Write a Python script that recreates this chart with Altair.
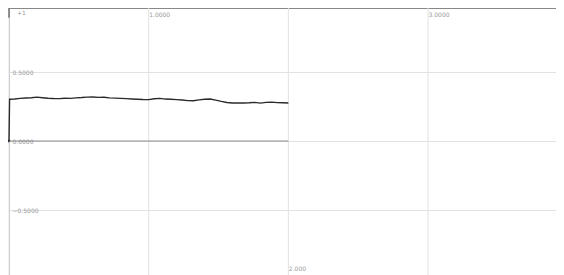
import altair as alt
import pandas as pd

xs = [0.0, 0.004] + [round(0.04 * k, 2) for k in range(1, 51)]
ys = [0.0, 0.303,
      0.305, 0.309, 0.312, 0.314, 0.318, 0.314, 0.310, 0.308, 0.307, 0.310,
      0.309, 0.313, 0.315, 0.318, 0.319, 0.316, 0.317, 0.313, 0.311, 0.309,
      0.307, 0.305, 0.303, 0.301, 0.300, 0.306, 0.309, 0.304, 0.303, 0.300,
      0.297, 0.293, 0.292, 0.298, 0.303, 0.304, 0.296, 0.287, 0.279, 0.276,
      0.275, 0.276, 0.277, 0.280, 0.275, 0.280, 0.282, 0.278, 0.277, 0.276]

x_top_ticks = [1, 3]
x_bottom_ticks = [2]
x_grid = [0, 1, 2, 3]
y_ticks = [-0.5, 0, 0.5]
top_label = ["+1"]

X_MAX = 3.916
Y_MIN, Y_MAX = -0.971, 0.964

df = pd.DataFrame({"x": xs, "y": ys})
base_df = pd.DataFrame({"x": [0], "x2": [max(xs)], "y": [0]})

W, H = 547, 267
xscale = alt.Scale(domain=[0, X_MAX], nice=False, zero=False)
yscale = alt.Scale(domain=[Y_MIN, Y_MAX], nice=False, zero=False)

y_expr = "format(datum.value, '.4f')"
x_expr = "datum.value == 2 ? '2.000' : format(datum.value, '.4f')"
LC = "#999999"

axis_y = alt.Axis(values=y_ticks, labelExpr=y_expr, orient="left", labelAlign="left",
                  labelBaseline="middle", labelPadding=-3, ticks=False, domain=True,
                  domainColor="#bbbbbb", grid=True, gridColor="#e2e2e2", labelFontSize=6,
                  labelColor=LC, title=None, labelFont="DejaVu Sans")

line = alt.Chart(df).mark_line(color="#2a2a2a", strokeWidth=1.4).encode(
    x=alt.X("x:Q", scale=xscale,
            axis=alt.Axis(values=x_top_ticks, labelExpr=x_expr, orient="top", labelAlign="left",
                          labelBaseline="top", labelPadding=-3, ticks=False,
                          domain=True, domainColor="#c8c8c8", grid=False, labelFontSize=6,
                          labelColor=LC, title=None, labelFont="DejaVu Sans")),
    y=alt.Y("y:Q", scale=yscale, axis=axis_y),
)

gridx = alt.Chart(pd.DataFrame({"x": x_grid})).mark_rule(color="#e2e2e2", strokeWidth=1).encode(
    x=alt.X("x:Q", scale=xscale,
            axis=alt.Axis(values=x_bottom_ticks, labelExpr=x_expr, orient="bottom", labelAlign="left",
                          labelBaseline="bottom", labelPadding=-4, ticks=False, domain=False,
                          grid=False, labelFontSize=6, labelColor=LC, title=None,
                          labelFont="DejaVu Sans")),
)

zero_rule = alt.Chart(base_df).mark_rule(color="#8a8a8a", strokeWidth=1).encode(
    x="x:Q", x2="x2:Q", y=alt.Y("y:Q", scale=yscale)
)

marker = alt.Chart(pd.DataFrame({"x": [0], "y": [0]})).mark_point(
    shape="triangle-right", filled=True, color="#111111", size=18
).encode(x=alt.X("x:Q", scale=xscale), y=alt.Y("y:Q", scale=yscale))

top_text = alt.Chart(pd.DataFrame({"t": top_label, "x": [0], "y": [Y_MAX]})).mark_text(
    align="left", baseline="top", dx=8, dy=2, fontSize=6, color=LC, font="DejaVu Sans"
).encode(x=alt.X("x:Q", scale=xscale), y=alt.Y("y:Q", scale=yscale), text="t:N")

top_tick = alt.Chart(pd.DataFrame({"x": [0], "y": [Y_MAX], "y2": [Y_MAX - 0.07]})).mark_rule(
    color="#555555", strokeWidth=1.2
).encode(x=alt.X("x:Q", scale=xscale), y=alt.Y("y:Q", scale=yscale), y2="y2:Q")

chart = alt.layer(gridx, zero_rule, line, marker, top_text, top_tick).resolve_axis(
    x="independent"
).properties(
    width=W, height=H,
    autosize=alt.AutoSizeParams(type="none"),
    padding={"left": 1, "top": 0, "right": 0, "bottom": 0},
).configure_view(stroke=None).configure(background="white")

chart.save("out.html", embed_options={"renderer": "svg", "actions": False})
